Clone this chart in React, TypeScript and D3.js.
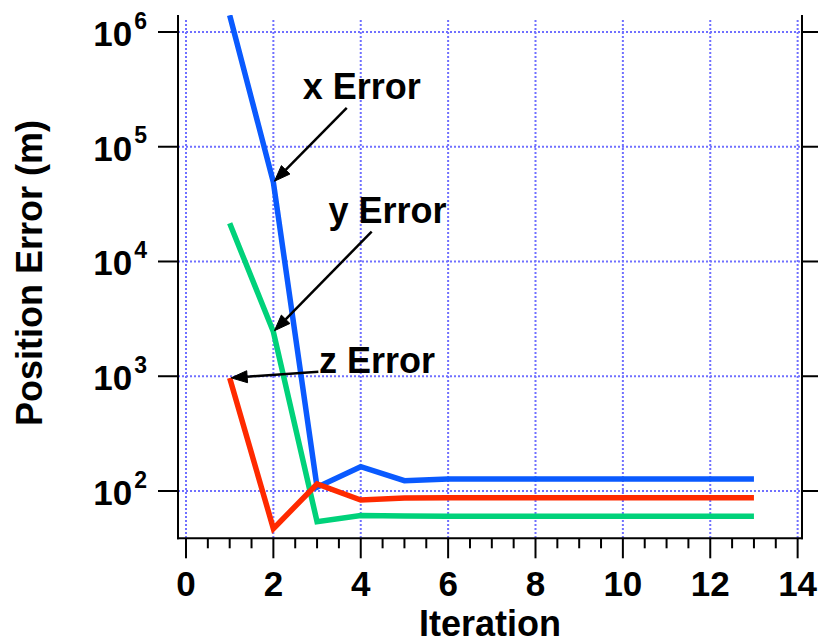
import React from "react";
import * as d3 from "d3";

const iterations = [1, 2, 3, 4, 5, 6, 7, 8, 9, 10, 11, 12, 13];
const xError = [1.4e6, 4.9e4, 108, 163, 123, 127, 127, 127, 127, 127, 127, 127, 127];
const yError = [21500, 2440, 54, 61, 60.5, 60.3, 60.3, 60.3, 60.3, 60.3, 60.3, 60.3, 60.3];
const zError = [966, 47, 115, 83.5, 87, 87.4, 87.4, 87.4, 87.4, 87.4, 87.4, 87.4, 87.4];

const xTicks = [0, 2, 4, 6, 8, 10, 12, 14];
const xMinorTicks = d3.range(0, 14.01, 0.5);
const yTicks = [1e2, 1e3, 1e4, 1e5, 1e6];
const yTickExponents = ["2", "3", "4", "5", "6"];

const seriesNames = ["x Error", "y Error", "z Error"];
const seriesColors = ["#0a5aff", "#00d27a", "#ff2a00"];
// annotation label anchors (data coords) and arrow starts (data coords) ; arrow ends at series point
const labelX = [2.67, 3.26, 3.045];
const labelY = [2.59e5, 2.17e4, 1067];
const arrowStartX = [3.68, 4.25, 3.03];
const arrowStartY = [2.18e5, 1.82e4, 1096];
const arrowTargetIndex = [1, 1, 0];

const W = 818;
const H = 644;
const left = 178;
const right = 802;
const top = 15;
const bottom = 538.3;

const FONT = "'Liberation Sans', Arial, Helvetica, sans-serif";

export default function App() {
  const x = d3.scaleLinear().domain([-0.183, 14.1]).range([left, right]);
  const y = d3.scaleLog().domain([38.7, 1.406e6]).range([bottom, top]);
  const series = [xError, yError, zError];
  const line = d3
    .line<number>()
    .x((_, i) => x(iterations[i]))
    .y((d) => y(d));

  const grid = "#7070ff";

  const arrows = series.map((s, k) => {
    const x1 = x(arrowStartX[k]);
    const y1 = y(arrowStartY[k]);
    const tx = x(iterations[arrowTargetIndex[k]]);
    const ty = y(s[arrowTargetIndex[k]]);
    const ang = Math.atan2(ty - y1, tx - x1);
    const x2 = tx - Math.cos(ang) * 1.5;
    const y2 = ty - Math.sin(ang) * 1.5;
    const L = 16;
    const Wd = 6;
    const bx = x2 - Math.cos(ang) * L;
    const by = y2 - Math.sin(ang) * L;
    const px = -Math.sin(ang) * Wd;
    const py = Math.cos(ang) * Wd;
    return { x1, y1, x2, y2, bx, by, head: `M${x2},${y2}L${bx + px},${by + py}L${bx - px},${by - py}Z` };
  });

  return (
    <div style={{ position: "fixed", left: 0, top: 0 }}>
      <svg width={W} height={H} style={{ display: "block", background: "#fff" }}>
        <defs>
          <clipPath id="plotclip">
            <rect x={left} y={top} width={right - left} height={bottom - top} />
          </clipPath>
        </defs>
        {/* grid */}
        {xTicks.map((t) => (
          <line key={"gx" + t} x1={x(t)} x2={x(t)} y1={20} y2={bottom} stroke={grid} strokeWidth={2} strokeDasharray="2,2" />
        ))}
        {yTicks.map((t) => (
          <line key={"gy" + t} x1={left} x2={right} y1={y(t)} y2={y(t)} stroke={grid} strokeWidth={2} strokeDasharray="2,2" />
        ))}
        {/* series */}
        <g clipPath="url(#plotclip)">
          {series.map((s, k) => (
            <path key={k} d={line(s) || ""} fill="none" stroke={seriesColors[k]} strokeWidth={5.5} strokeLinejoin="miter" strokeMiterlimit={10} />
          ))}
        </g>
        {/* axes */}
        <line x1={left} x2={left} y1={top} y2={bottom + 1} stroke="#000" strokeWidth={2} />
        <line x1={right} x2={right} y1={top} y2={bottom + 1} stroke="#000" strokeWidth={2} />
        <line x1={left - 1} x2={right + 1} y1={bottom} y2={bottom} stroke="#000" strokeWidth={2} />
        {yTicks.map((t) => (
          <g key={"ty" + t}>
            <line x1={left - 20} x2={left} y1={y(t)} y2={y(t)} stroke="#000" strokeWidth={2} />
            <line x1={right} x2={right + 20} y1={y(t)} y2={y(t)} stroke="#000" strokeWidth={2} />
          </g>
        ))}
        {xMinorTicks.map((t) => {
          const major = Math.abs(t % 2) < 1e-6;
          return (
            <line key={"tx" + t} x1={x(t)} x2={x(t)} y1={bottom} y2={bottom + (major ? 20 : 10)} stroke="#000" strokeWidth={2} />
          );
        })}
        {/* tick labels */}
        {xTicks.map((t) => (
          <text key={"lx" + t} x={x(t)} y={595.7} textAnchor="middle" fontFamily={FONT} fontWeight="bold" fontSize={35} fill="#000">
            {t}
          </text>
        ))}
        {yTicks.map((t, i) => (
          <text key={"ly" + t} x={147} y={y(t) + 14} textAnchor="end" fontFamily={FONT} fontWeight="bold" fontSize={35} fill="#000">
            10
            <tspan dx={2} dy={-17.4} fontSize={23}>
              {yTickExponents[i]}
            </tspan>
          </text>
        ))}
        {/* axis titles */}
        <text x={(left + right) / 2} y={636} textAnchor="middle" fontFamily={FONT} fontWeight="bold" fontSize={36} fill="#000">
          Iteration
        </text>
        <text transform={`translate(41.5,273) rotate(-90)`} textAnchor="middle" fontFamily={FONT} fontWeight="bold" fontSize={36} fill="#000">
          Position Error (m)
        </text>
        {/* annotations */}
        {arrows.map((a, k) => (
          <g key={"an" + k}>
            <line x1={a.x1} y1={a.y1} x2={a.bx} y2={a.by} stroke="#000" strokeWidth={2.5} />
            <path d={a.head} fill="#000" stroke="#000" strokeWidth={1} strokeLinejoin="miter" />
            <text x={x(labelX[k])} y={y(labelY[k])} fontFamily={FONT} fontWeight="bold" fontSize={36} fill="#000">
              {seriesNames[k]}
            </text>
          </g>
        ))}
      </svg>
    </div>
  );
}
